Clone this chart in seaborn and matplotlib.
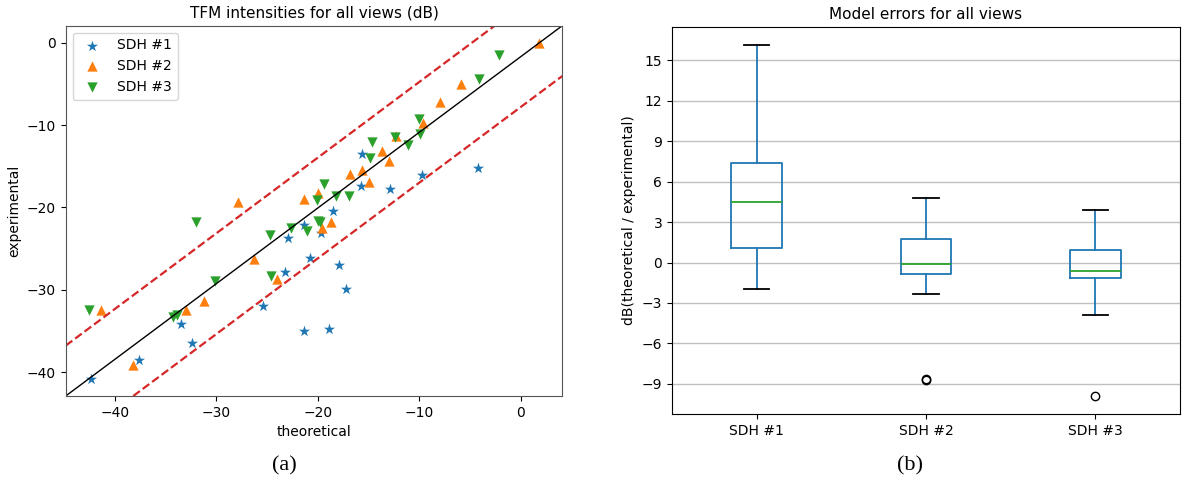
import numpy as np
import pandas as pd
import matplotlib
matplotlib.use("Agg")
import matplotlib.pyplot as plt
import seaborn as sns

# scatter data: theoretical vs experimental intensity (dB)
sdh1_theo = [-4.2, -9.7, -12.9, -15.6, -15.7, -18.5, -19.7, -21.4, -20.8, -22.9,
             -23.2, -25.4, -17.9, -17.2, -18.9, -21.4, -33.5, -32.4, -37.6, -42.4]
sdh1_exp = [-15.2, -16.1, -17.8, -13.5, -17.4, -20.4, -23.1, -22.1, -26.1, -23.7,
            -27.8, -32.0, -27.0, -29.9, -34.7, -35.0, -34.2, -36.5, -38.5, -40.8]

sdh2_theo = [1.8, -5.9, -8.0, -9.6, -12.3, -13.7, -13.0, -15.6, -16.8, -15.0, -20.0,
             -21.4, -27.9, -18.7, -19.6, -26.3, -24.0, -31.2, -41.4, -33.0, -38.2]
sdh2_exp = [0.0, -5.0, -7.2, -9.8, -11.3, -13.1, -14.4, -15.4, -15.9, -16.9, -18.2,
            -19.0, -19.3, -21.8, -22.5, -26.2, -28.7, -31.3, -32.4, -32.4, -39.1]

sdh3_theo = [-2.1, -4.1, -10.0, -9.9, -12.4, -11.1, -14.7, -14.9, -19.4, -20.1, -18.2, -16.9,
             -32.0, -22.6, -21.1, -24.7, -20.0, -19.8, -24.6, -30.1, -42.6, -34.3, -33.9]
sdh3_exp = [-1.5, -4.4, -9.3, -11.1, -11.5, -12.4, -12.1, -14.0, -17.1, -19.1, -18.6, -18.6,
            -21.8, -22.5, -22.9, -23.3, -21.7, -21.8, -28.3, -28.9, -32.5, -33.3, -33.0]

# box statistics
box_labels = ["SDH #1", "SDH #2", "SDH #3"]
box_med = [4.50, -0.10, -0.62]
box_q1 = [1.09, -0.82, -1.14]
box_q3 = [7.36, 1.78, 0.94]
box_lo = [-1.98, -2.32, -3.90]
box_hi = [16.18, 4.82, 3.90]
box_fliers = [[], [-8.65, -8.75], [-9.93]]

df = pd.concat([
    pd.DataFrame({"theoretical": sdh1_theo, "experimental": sdh1_exp, "sdh": "SDH #1"}),
    pd.DataFrame({"theoretical": sdh2_theo, "experimental": sdh2_exp, "sdh": "SDH #2"}),
    pd.DataFrame({"theoretical": sdh3_theo, "experimental": sdh3_exp, "sdh": "SDH #3"}),
])
markers = {"SDH #1": "*", "SDH #2": "^", "SDH #3": "v"}
sizes = {"SDH #1": 70, "SDH #2": 55, "SDH #3": 55}
colors = {"SDH #1": "C0", "SDH #2": "C1", "SDH #3": "C2"}

fig = plt.figure(figsize=(11.86, 4.8), dpi=100)
ax1 = fig.add_axes([0.0554, 0.175, 0.4187, 0.7715])
ax2 = fig.add_axes([0.5666, 0.1375, 0.4284, 0.8065])

# (a) scatter
for name, grp in df.groupby("sdh"):
    sns.scatterplot(data=grp, x="theoretical", y="experimental", marker=markers[name],
                    color=colors[name], s=sizes[name], linewidth=0, label=name, ax=ax1)
ax1.set_xlim(-44.86, 4.10)
ax1.set_ylim(-42.88, 2.06)
# diagonal and +/- band, drawn corner to corner of the axes
band = 0.136
ax1.axline((0, 0), (1, 1), transform=ax1.transAxes, color="k", lw=1)
ax1.axline((0, band), (1, 1 + band), transform=ax1.transAxes, color="C3", ls="--", lw=1.6)
ax1.axline((0, -band), (1, 1 - band), transform=ax1.transAxes, color="C3", ls="--", lw=1.6)
ax1.set_xticks([-40, -30, -20, -10, 0])
ax1.set_yticks([0, -10, -20, -30, -40])
ax1.set_title("TFM intensities for all views (dB)", fontsize=11)
ax1.set_xlabel("theoretical", fontsize=10)
ax1.set_ylabel("experimental", fontsize=10)
ax1.tick_params(labelsize=10)
for sp in ax1.spines.values():
    sp.set_color("#555555")
ax1.legend(loc="upper left", fontsize=10)

# (b) box plot of model errors
stats = []
for i in range(len(box_labels)):
    stats.append(dict(label=box_labels[i], med=box_med[i], q1=box_q1[i], q3=box_q3[i],
                      whislo=box_lo[i], whishi=box_hi[i], fliers=box_fliers[i]))
ax2.bxp(stats, widths=0.3,
        boxprops=dict(color="C0", lw=1.3), whiskerprops=dict(color="C0", lw=1.3),
        medianprops=dict(color="C2", lw=1.3), capprops=dict(color="k", lw=1.3),
        flierprops=dict(marker="o", markerfacecolor="none", markeredgecolor="k"))
ax2.set_ylim(-11.24, 17.49)
ax2.set_yticks(np.arange(-9, 16, 3))
ax2.yaxis.grid(True, color="#c0c0c0", lw=1)
ax2.set_axisbelow(True)
ax2.set_title("Model errors for all views", fontsize=11)
ax2.set_ylabel("dB(theoretical / experimental)", fontsize=10)
ax2.tick_params(labelsize=10)

fig.text(0.240, 0.029, "(a)", family="Liberation Serif", fontsize=16, ha="center", va="center")
fig.text(0.767, 0.029, "(b)", family="Liberation Serif", fontsize=16, ha="center", va="center")

fig.savefig("out.png", dpi=100)
